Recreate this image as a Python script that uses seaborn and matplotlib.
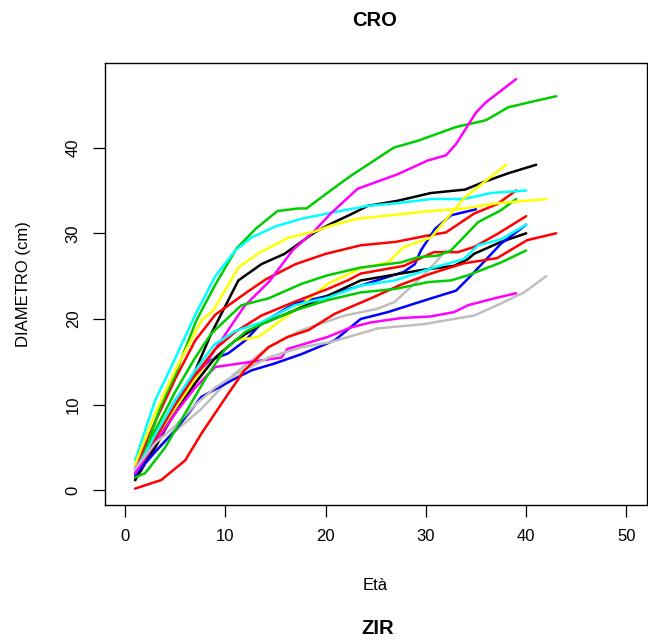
import matplotlib
matplotlib.use("Agg")
import matplotlib.pyplot as plt
import seaborn as sns
import pandas as pd

# ---- data: (age, diameter), one list pair per tree ----
g1_age = [1, 2, 3.6, 5, 7.1, 9, 11.1, 13, 15.2, 17.3, 18.1, 20.5, 22.5, 26.8, 29.2, 33, 36, 38.2, 41.1, 43]
g1_d   = [2.5, 4.5, 10, 13.5, 19.8, 24, 28.2, 30.5, 32.6, 32.9, 32.9, 35, 36.7, 40, 40.8, 42.4, 43.2, 44.7, 45.5, 46]

c1_age = [1, 2, 3, 4.6, 7, 9, 11, 12.6, 15, 17.6, 21, 24.2, 27, 30.5, 33.8, 36.5, 40]
c1_d   = [3.5, 7, 10.5, 14.4, 20.5, 25, 28, 29.5, 30.8, 31.7, 32.5, 33.2, 33.5, 34, 34, 34.7, 35]

m1_age = [1, 3, 5, 7.6, 9.3, 11.9, 14.4, 16.7, 18.9, 20.5, 23.2, 27.2, 30.2, 32, 33, 35, 36, 39]
m1_d   = [2.5, 6.5, 10, 14, 17, 21.5, 24.4, 28, 30.3, 32.3, 35.2, 36.9, 38.5, 39.1, 40.4, 44.1, 45.3, 48]

k1_age = [1, 3, 6, 8.6, 11.3, 13.6, 15.9, 18.9, 20.5, 22.5, 24.2, 27.2, 30.5, 33.9, 35.8, 38.2, 41]
k1_d   = [1.2, 5, 11.3, 18.3, 24.5, 26.4, 27.6, 30.1, 31.1, 32.2, 33.2, 33.8, 34.7, 35.1, 36, 37, 38]

y1_age = [1, 3, 5, 7, 9, 11, 13.3, 16.9, 20.2, 23.5, 26.2, 27.8, 30.5, 32.5, 33.9, 38]
y1_d   = [2, 6, 9.5, 13, 15.5, 17.5, 17.9, 21, 24.1, 25.9, 26.6, 28.4, 29.5, 32.3, 34.2, 38]

y2_age = [1, 3, 5, 7.6, 8.8, 11.3, 13.2, 16.3, 18.9, 20.5, 23.2, 27.2, 30.5, 33.9, 37.1, 42]
y2_d   = [3, 9, 14, 19.8, 21, 26, 27.6, 29.5, 30.2, 30.9, 31.7, 32.2, 32.6, 32.9, 33.5, 34]

r1_age = [1, 3, 5, 7, 9, 12, 14, 17, 20, 23.5, 27, 30, 32, 34.8, 37.1, 39]
r1_d   = [2.5, 8, 13, 17.5, 20.5, 23, 24.6, 26.4, 27.6, 28.6, 29, 29.7, 30.1, 32.3, 33.4, 35]

r2_age = [1, 3, 5, 7, 9, 11, 13.6, 16.9, 20.2, 22.2, 23.5, 27.8, 30.8, 33.2, 34.8, 37.1, 40]
r2_d   = [1.8, 6, 10, 13.5, 16.5, 18.5, 20.4, 22, 23.5, 24.5, 25.3, 26.2, 27.8, 27.8, 28.4, 29.9, 32]

r3_age = [1, 3.6, 6, 7.6, 10.3, 11.9, 14.3, 16.2, 18.3, 20.9, 24.5, 27.5, 30.5, 33.8, 37.1, 40.1, 43]
r3_d   = [0.2, 1.2, 3.5, 6.6, 11.3, 14, 16.7, 17.9, 18.7, 20.6, 22.4, 24, 25.3, 26.5, 27.1, 29.2, 30]

g2_age = [1, 3, 5, 7, 8.6, 11.6, 14.3, 17.6, 20.2, 23.5, 27.5, 29.2, 31.2, 32.5, 33.9, 35.2, 37.5, 39]
g2_d   = [2, 7, 11.5, 15.5, 18.3, 21.6, 22.4, 24.1, 25.1, 26, 26.6, 27.2, 27.4, 28, 29.7, 31.3, 32.7, 34]

b1_age = [1, 3, 5, 7, 8.6, 10.3, 12, 13.6, 16.9, 20.2, 23.5, 27.8, 28.9, 29.5, 30.9, 32.5, 35]
b1_d   = [1.5, 6, 10.5, 13.5, 15.2, 16, 17.5, 19.5, 21.8, 22.7, 23.9, 25.5, 26.4, 28, 30.5, 32.1, 32.8]

b2_age = [1, 3, 5, 6, 7.6, 10.9, 12.6, 14.9, 17.6, 20.9, 23.5, 26.2, 30.5, 33, 34.2, 37.5, 40]
b2_d   = [1.8, 4.5, 7, 8.5, 10.9, 13, 14, 14.8, 15.9, 17.5, 20, 20.8, 22.4, 23.3, 24.7, 28.8, 31]

c2_age = [1, 3, 5, 7, 8.9, 11, 13.6, 16.9, 20.2, 23.5, 26.9, 30.8, 33.8, 35.2, 37.5, 40]
c2_d   = [2, 6.5, 10.5, 14, 17, 18.6, 19.6, 21.6, 22.5, 23.9, 24.5, 26, 27, 28.6, 29.3, 31]

k2_age = [1, 3, 5, 7, 9, 11, 13.6, 16.9, 20.2, 23.5, 27.5, 29.5, 32.8, 34.2, 34.8, 37.5, 40]
k2_d   = [1.2, 5.5, 9, 12.5, 15.5, 17.5, 19.4, 21, 22.7, 24.5, 25.3, 25.7, 26.2, 27, 27.6, 29, 30]

g3_age = [1, 2, 4, 6, 8, 10, 12, 13.6, 16.9, 20.2, 23.5, 26.9, 30.2, 32.5, 34.2, 37.5, 40]
g3_d   = [1.5, 2, 5, 9, 13, 16.5, 18.5, 19.4, 21, 22.2, 23.1, 23.5, 24.3, 24.5, 25.1, 26.6, 28]

gr1_age = [1, 2, 4.3, 7.6, 10.9, 14.3, 17.6, 21.9, 25.2, 26.9, 29.2, 30.8, 32]
gr1_d   = [2, 3.1, 6.2, 9.5, 13.6, 16.7, 18.7, 20.4, 21.2, 22, 24.5, 26.4, 28]

gr2_age = [1, 3, 5, 7, 9, 11, 14.3, 17.6, 20.5, 25.2, 29.8, 34.8, 37.1, 39.8, 42]
gr2_d   = [2.5, 5.5, 7.5, 10, 12, 13.5, 15.5, 16.7, 17.3, 18.9, 19.4, 20.4, 21.6, 23.1, 25]

m2_age = [1, 3, 5, 7, 9, 12.6, 15.6, 16.2, 20.2, 22.5, 24.5, 27.5, 30.5, 32.8, 34.2, 36.8, 39]
m2_d   = [2, 5.5, 9, 12, 14.4, 15, 15.5, 16.5, 17.9, 19, 19.6, 20.1, 20.3, 20.8, 21.6, 22.4, 23]

trees = [
    ("k1", k1_age, k1_d, "#000000"), ("r1", r1_age, r1_d, "#FF0000"),
    ("g1", g1_age, g1_d, "#00CD00"), ("b1", b1_age, b1_d, "#0000FF"),
    ("c1", c1_age, c1_d, "#00FFFF"), ("m1", m1_age, m1_d, "#FF00FF"),
    ("y1", y1_age, y1_d, "#FFFF00"), ("gr1", gr1_age, gr1_d, "#BEBEBE"),
    ("k2", k2_age, k2_d, "#000000"), ("r2", r2_age, r2_d, "#FF0000"),
    ("g2", g2_age, g2_d, "#00CD00"), ("b2", b2_age, b2_d, "#0000FF"),
    ("c2", c2_age, c2_d, "#00FFFF"), ("m2", m2_age, m2_d, "#FF00FF"),
    ("y2", y2_age, y2_d, "#FFFF00"), ("gr2", gr2_age, gr2_d, "#BEBEBE"),
    ("r3", r3_age, r3_d, "#FF0000"), ("g3", g3_age, g3_d, "#00CD00"),
]

rows = []
for name, ages, ds, col in trees:
    for a, d in zip(ages, ds):
        rows.append({"tree": name, "age": a, "diam": d})
df = pd.DataFrame(rows)
palette = {name: col for name, _, _, col in trees}

sns.set_style("white")
plt.rcParams["font.family"] = ["Liberation Sans", "DejaVu Sans"]
plt.rcParams["text.color"] = "black"
plt.rcParams["axes.labelcolor"] = "black"
plt.rcParams["xtick.color"] = "black"
plt.rcParams["ytick.color"] = "black"

W, H = 648, 644
fig = plt.figure(figsize=(W / 100, H / 100), dpi=100)
L, R, T, B = 105, 646.5, 62.7, 505
ax = fig.add_axes([L / W, 1 - B / H, (R - L) / W, (B - T) / H])

sns.lineplot(data=df, x="age", y="diam", hue="tree", palette=palette,
             hue_order=[t[0] for t in trees], sort=False, estimator=None,
             linewidth=1.8, legend=False, ax=ax)

ax.set_xlim(-2, 52)
ax.set_ylim(-1.71, 49.91)
ax.set_xticks([0, 10, 20, 30, 40, 50])
ax.set_yticks([0, 10, 20, 30, 40])
for s in ax.spines.values():
    s.set_color("black")
    s.set_linewidth(1.0)
ax.tick_params(axis="both", direction="out", length=8.5, width=0.9,
               color="black", labelcolor="black", labelsize=12, pad=9,
               bottom=True, left=True)
for lbl in ax.get_yticklabels():
    lbl.set_rotation(90)
    lbl.set_va("center")
ax.set_xlabel("")
ax.set_ylabel("")

fig.text(375 / W, 1 - 20 / H, "CRO", ha="center", va="center",
         fontsize=14.5, fontweight="bold", color="black")
fig.text(375 / W, 1 - 585 / H, "Età", ha="center", va="center",
         fontsize=12, color="black")
fig.text(24 / W, 1 - 284 / H, "DIAMETRO (cm)", ha="center", va="center",
         rotation=90, fontsize=12, color="black")
fig.text(378 / W, 1 - 628 / H, "ZIR", ha="center", va="center",
         fontsize=14.5, fontweight="bold", color="black")

fig.savefig("out.png", dpi=100)
